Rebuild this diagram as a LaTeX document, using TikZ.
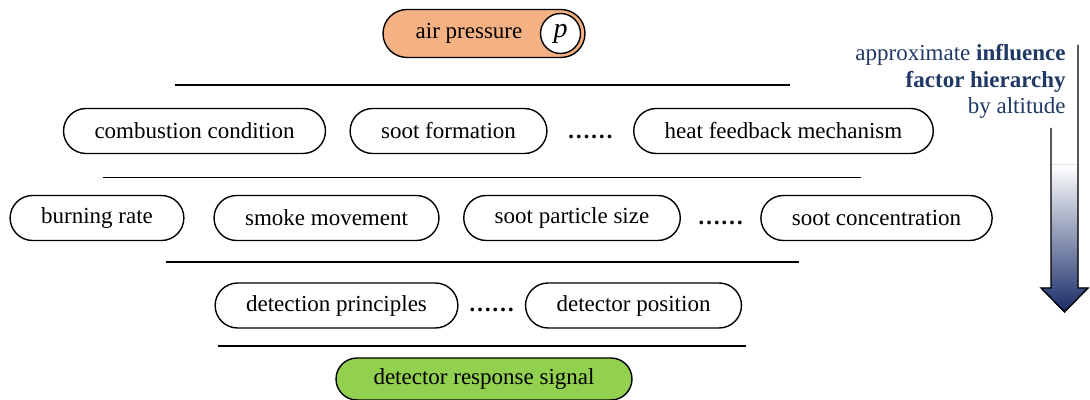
\documentclass[tikz,border=0pt]{standalone}
\usepackage{fontspec}
\setmainfont{LiberationSerif}[Extension=.ttf, UprightFont=*-Regular, BoldFont=*-Bold, ItalicFont=*-Italic, BoldItalicFont=*-BoldItalic]
\usetikzlibrary{calc}
\definecolor{airorange}{RGB}{244,177,131}
\definecolor{signalgreen}{RGB}{146,208,80}
\definecolor{hiernavy}{RGB}{32,56,100}
\definecolor{arrownavy}{RGB}{24,44,104}
\tikzset{
  factor/.style={draw, rounded corners=11.25pt, minimum height=22.5pt, inner xsep=15.5pt, line width=0.7pt},
  gap/.style={inner sep=0pt, anchor=base, font=\fontsize{11.5}{13.25}\selectfont\bfseries},
  rule/.style={line width=0.75pt},
}
\begin{document}
\begin{tikzpicture}[x=0.5pt,y=-0.5pt,font=\fontsize{11.5}{13.25}\selectfont]
\useasboundingbox (0,0) rectangle (1090,400);

% source and outcome
\node[factor, fill=airorange, minimum width=101pt, minimum height=24pt, rounded corners=12pt] (air) at (484,33.5) {air pressure\kern15pt};
\node[draw, circle, fill=white, minimum size=20pt, inner sep=0pt, line width=0.7pt] (p) at ([xshift=-12.6pt]air.east) {\fontsize{14}{16}\selectfont\itshape p};
\node[factor, fill=signalgreen, minimum width=148pt, minimum height=21pt, rounded corners=10.5pt] (signal) at (484,379) {detector response signal};

% first level
\node[factor] (comb) at (194.5,131) {combustion condition};
\node[factor] (sootf) at (448.5,131) {soot formation};
\node[factor] (heat) at (783.5,131) {heat feedback mechanism};
\node[gap] (dotsa) at ($(sootf.base east)!.5!(heat.base west)$) {……};

% second level
\node[factor] (burn) at (97,218) {burning rate};
\node[factor] (smoke) at (326.5,218) {smoke movement};
\node[factor] (size) at (572,218) {soot particle size};
\node[factor] (conc) at (876.5,218) {soot concentration};
\node[gap] (dotsb) at ($(size.base east)!.5!(conc.base west)$) {……};

% third level
\node[factor] (princ) at (336.5,305.5) {detection principles};
\node[factor] (pos) at (633.5,305.5) {detector position};
\node[gap] (dotsc) at ($(princ.base east)!.5!(pos.base west)$) {……};

% separators
\draw[rule] (174.5,85) -- (790,85);
\draw[rule] (103,177.5) -- (861,177.5);
\draw[rule] (166,262) -- (799,262);
\draw[rule] (218,346) -- (746,346);

% hierarchy arrow
\fill[top color=white, bottom color=arrownavy] (1051,165) -- (1078,165) -- (1078,288) -- (1088,288) -- (1064.5,312) -- (1041,288) -- (1051,288) -- cycle;
\draw[line width=0.7pt] (1051,128) -- (1051,288) -- (1041,288) -- (1064.5,312) -- (1088,288) -- (1078,288) -- (1078,45);
\node[align=right, anchor=north east, inner sep=0pt, text=hiernavy] (hier) at (1066,44) {approximate \textbf{influence}\\\textbf{factor hierarchy}\\by altitude};
\end{tikzpicture}
\end{document}
